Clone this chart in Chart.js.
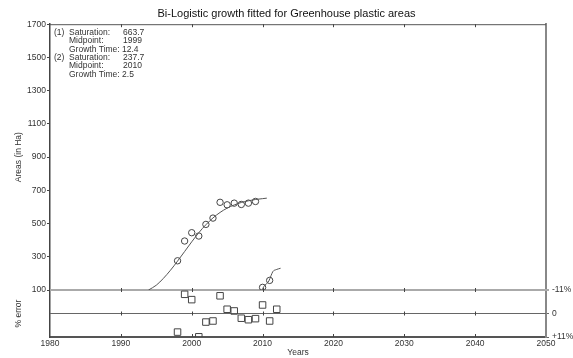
<!DOCTYPE html>
<html lang="en">
<head>
  <meta charset="UTF-8">
  <title>Bi-Logistic growth - Greenhouse plastic areas</title>
  <script src="https://cdn.jsdelivr.net/npm/chart.js"></script>
  <style>
    body { margin: 0; background: #fff; }
    #wrap { width: 573px; height: 358px; }
  </style>
</head>
<body>
<div id="wrap"><canvas id="chart"></canvas></div>
<script>
  // observed areas (first pulse)
  const obsYears = [1998, 1999, 2000, 2001, 2002, 2003, 2004, 2005, 2006, 2007, 2008, 2009];
  const obsAreas = [276, 395, 445, 425, 495, 533, 628, 613, 623, 615, 623, 633];
  // observed areas (second pulse)
  const pulse2Years = [2010, 2011];
  const pulse2Areas = [116, 158];
  // fitted curves
  const fit1Years = [1993.9, 1995, 1996, 1997, 1998, 1999, 2000, 2001, 2002, 2003, 2004, 2005, 2006, 2007, 2008, 2009, 2010, 2010.6];
  const fit1Areas = [100, 129, 170, 219, 274, 332, 390, 445, 493, 534, 567, 593, 612, 627, 637, 645, 650, 653];
  const fit2Years = [2009.93, 2010.18, 2010.89, 2011.2, 2011.45, 2011.93, 2012.54];
  const fit2Areas = [100, 121, 155, 187, 211, 223, 231];
  // residuals
  const errYears = [1998, 1999, 2000, 2001, 2002, 2003, 2004, 2005, 2006, 2007, 2008, 2009, 2010, 2011, 2012];
  const errPercent = [8.7, -9.0, -6.5, 10.9, 4.0, 3.5, -8.3, -2.0, -1.2, 2.2, 2.9, 2.4, -4.0, 3.5, -2.0];

  const yearTicks = [1980, 1990, 2000, 2010, 2020, 2030, 2040, 2050];
  const areaTicks = [100, 300, 500, 700, 900, 1100, 1300, 1500, 1700];
  const errTicks = [-11, 0, 11];
  const errTickLabels = ['-11%', '0', '+11%'];

  const fitText = [
    { tag: '(1)', label: 'Saturation:', value: '663.7' },
    { tag: '', label: 'Midpoint:', value: '1999' },
    { tag: '', label: 'Growth Time: 12.4', value: '' },
    { tag: '(2)', label: 'Saturation:', value: '237.7' },
    { tag: '', label: 'Midpoint:', value: '2010' },
    { tag: '', label: 'Growth Time: 2.5', value: '' }
  ];

  const FONT = '"Liberation Sans", Arial, sans-serif';
  const TXT = '#333';
  const tickFont = { family: FONT, size: 8.5 };

  const pairs = (xs, ys) => xs.map((x, i) => ({ x: x, y: ys[i] }));
  const setTicks = list => scale => { scale.ticks = list.map(v => ({ value: v })); };

  const decorations = {
    id: 'decorations',
    beforeDatasetsDraw(chart) {
      const { ctx, chartArea: a, scales } = chart;
      const y100 = scales.y.getPixelForValue(100);
      const y0 = scales.yErr.getPixelForValue(0);
      ctx.save();
      ctx.lineWidth = 1;
      ctx.strokeStyle = '#555';
      ctx.beginPath();
      ctx.moveTo(a.left, a.top + 0.5);
      ctx.lineTo(a.right, a.top + 0.5);
      ctx.stroke();

      ctx.strokeStyle = '#aaa';
      ctx.lineWidth = 2;
      ctx.beginPath();
      ctx.moveTo(a.left, y100);
      ctx.lineTo(a.right + 3, y100);
      ctx.stroke();

      ctx.strokeStyle = '#666';
      ctx.lineWidth = 1;
      ctx.beginPath();
      ctx.moveTo(a.left, y0);
      ctx.lineTo(a.right, y0);
      ctx.stroke();

      // small year ticks on each horizontal line
      ctx.strokeStyle = '#444';
      yearTicks.slice(1, -1).forEach(v => {
        const px = Math.round(scales.x.getPixelForValue(v)) + 0.5;
        ctx.beginPath();
        ctx.moveTo(px, a.top); ctx.lineTo(px, a.top + 3);
        ctx.moveTo(px, y100 - 2); ctx.lineTo(px, y100 + 2);
        ctx.moveTo(px, y0 - 2); ctx.lineTo(px, y0 + 2);
        ctx.moveTo(px, a.bottom - 3); ctx.lineTo(px, a.bottom);
        ctx.stroke();
      });
      ctx.restore();
    },
    afterDraw(chart) {
      const { ctx, chartArea: a } = chart;
      ctx.save();
      ctx.font = '8.5px ' + FONT;
      ctx.fillStyle = TXT;
      ctx.textBaseline = 'middle';
      fitText.forEach((row, i) => {
        const y = a.top + 8.5 + i * 8.35;
        if (row.tag) ctx.fillText(row.tag, a.left + 4, y);
        ctx.fillText(row.label, a.left + 19, y);
        if (row.value) ctx.fillText(row.value, a.left + 73, y);
      });
      ctx.restore();
    }
  };

  new Chart(document.getElementById('chart'), {
    type: 'scatter',
    data: {
      datasets: [
        {
          data: pairs(fit1Years, fit1Areas), yAxisID: 'y', showLine: true,
          borderColor: '#555', borderWidth: 1, pointRadius: 0, cubicInterpolationMode: 'monotone'
        },
        {
          data: pairs(fit2Years, fit2Areas), yAxisID: 'y', showLine: true,
          borderColor: '#555', borderWidth: 1, pointRadius: 0, cubicInterpolationMode: 'monotone'
        },
        {
          data: pairs(obsYears, obsAreas), yAxisID: 'y',
          pointStyle: 'circle', pointRadius: 3.2, borderColor: '#444', borderWidth: 1,
          backgroundColor: 'rgba(255,255,255,0)'
        },
        {
          data: pairs(pulse2Years, pulse2Areas), yAxisID: 'y',
          pointStyle: 'circle', pointRadius: 3.2, borderColor: '#444', borderWidth: 1,
          backgroundColor: 'rgba(255,255,255,0)'
        },
        {
          data: pairs(errYears, errPercent), yAxisID: 'yErr',
          pointStyle: 'rect', pointRadius: 4.6, borderColor: '#444', borderWidth: 1,
          backgroundColor: 'rgba(255,255,255,0)'
        }
      ]
    },
    options: {
      responsive: true,
      maintainAspectRatio: false,
      animation: false,
      layout: { padding: 0 },
      plugins: {
        legend: { display: false },
        tooltip: { enabled: false },
        title: {
          display: true,
          text: 'Bi-Logistic growth fitted for Greenhouse plastic areas',
          color: '#111',
          font: { family: FONT, size: 11, weight: 'normal' },
          padding: { top: 7, bottom: 4 }
        }
      },
      scales: {
        x: {
          type: 'linear', min: 1980, max: 2050,
          afterBuildTicks: setTicks(yearTicks),
          ticks: { callback: v => String(v), font: tickFont, color: TXT, padding: 2, maxRotation: 0, autoSkip: false },
          grid: { display: false, drawTicks: false },
          border: { color: '#555', width: 2 },
          title: { display: true, text: 'Years', font: tickFont, color: TXT, padding: { top: 0, bottom: 0 } },
          afterFit: s => { s.height = 21; }
        },
        // left boxes are stacked in reverse order, so the error axis comes first
        yErr: {
          position: 'left', stack: 'left', stackWeight: 47, min: -11, max: 11, reverse: true,
          ticks: { display: false },
          grid: { display: false, drawTicks: false },
          border: { color: '#444', width: 1.5 },
          title: { display: true, text: '% error', font: tickFont, color: TXT, padding: { top: 14, bottom: 0 } },
          afterFit: s => { s.width = 50; }
        },
        y: {
          position: 'left', stack: 'left', stackWeight: 266, min: 100, max: 1700,
          afterBuildTicks: setTicks(areaTicks),
          ticks: { callback: v => String(v), font: tickFont, color: TXT, padding: 1 },
          grid: { drawOnChartArea: false, drawTicks: true, tickLength: 3, color: '#444' },
          border: { color: '#444', width: 1.5 },
          title: { display: true, text: 'Areas (in Ha)', font: tickFont, color: TXT, padding: { top: 14, bottom: 0 } },
          afterFit: s => { s.width = 50; }
        },
        yR: {
          position: 'right', stack: 'right', stackWeight: 266, min: 100, max: 1700,
          ticks: { display: false },
          grid: { display: false, drawTicks: false },
          border: { color: '#888', width: 2 },
          afterFit: s => { s.width = 27; }
        },
        yErrR: {
          position: 'right', stack: 'right', stackWeight: 47, min: -11, max: 11, reverse: true,
          afterBuildTicks: setTicks(errTicks),
          ticks: { callback: v => errTickLabels[errTicks.indexOf(v)], font: tickFont, color: TXT, padding: 3, autoSkip: false },
          grid: { drawOnChartArea: false, drawTicks: true, tickLength: 3, color: '#666' },
          border: { color: '#888', width: 2 },
          afterFit: s => { s.width = 27; }
        }
      }
    },
    plugins: [decorations]
  });
</script>
</body>
</html>
